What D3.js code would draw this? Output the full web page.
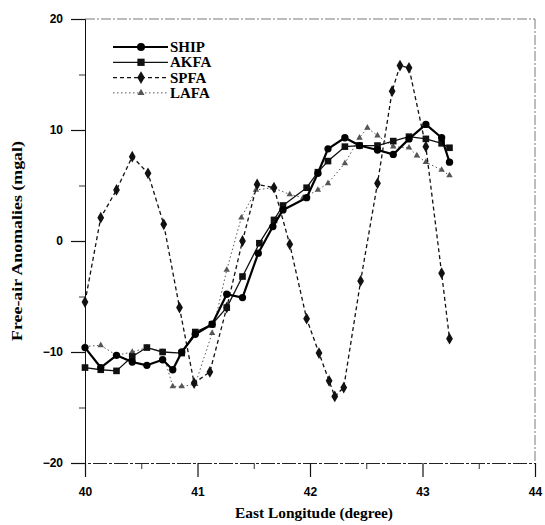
<!DOCTYPE html>
<html>
<head>
<meta charset="utf-8">
<script src="https://cdn.jsdelivr.net/npm/d3@7"></script>
<style>
  body { margin: 0; background: #fff; }
  svg { display: block; }
</style>
</head>
<body>
<div id="chart"></div>
<script>
// leituras do gráfico (longitude, anomalia)
const shipLon = [40.00, 40.14, 40.28, 40.42, 40.55, 40.69, 40.78, 40.86, 40.98, 41.13, 41.26, 41.40, 41.54, 41.67, 41.76, 41.97, 42.07, 42.16, 42.31, 42.44, 42.60, 42.74, 42.88, 43.03, 43.17, 43.24];
const shipVal = [-9.6, -11.4, -10.3, -10.9, -11.2, -10.7, -11.6, -10.0, -8.4, -7.5, -4.8, -5.1, -1.1, 1.3, 2.8, 3.9, 6.1, 8.3, 9.3, 8.6, 8.2, 7.8, 9.2, 10.5, 9.3, 7.1];

const akfaLon = [40.00, 40.14, 40.28, 40.42, 40.55, 40.69, 40.86, 40.98, 41.13, 41.26, 41.40, 41.55, 41.68, 41.76, 41.97, 42.07, 42.16, 42.31, 42.44, 42.60, 42.74, 42.88, 43.03, 43.17, 43.24];
const akfaVal = [-11.4, -11.6, -11.7, -10.4, -9.6, -10.0, -10.1, -8.2, -7.5, -6.0, -3.2, -0.2, 1.9, 3.2, 4.8, 6.2, 7.2, 8.5, 8.6, 8.6, 9.0, 9.4, 9.2, 8.8, 8.4];

const spfaLon = [40.00, 40.14, 40.28, 40.42, 40.56, 40.70, 40.84, 40.97, 41.11, 41.26, 41.40, 41.53, 41.68, 41.82, 41.97, 42.08, 42.17, 42.22, 42.30, 42.45, 42.60, 42.73, 42.80, 42.88, 43.03, 43.17, 43.24];
const spfaVal = [-5.5, 2.1, 4.6, 7.6, 6.1, 1.5, -6.0, -12.8, -11.8, -6.0, 0.0, 5.1, 4.8, -0.3, -7.0, -10.1, -12.6, -14.0, -13.2, -3.6, 5.2, 13.5, 15.8, 15.6, 8.5, -2.9, -8.8];

const lafaLon = [40.00, 40.14, 40.28, 40.42, 40.55, 40.69, 40.78, 40.86, 40.98, 41.13, 41.26, 41.39, 41.52, 41.67, 41.82, 41.94, 42.07, 42.16, 42.31, 42.44, 42.51, 42.60, 42.74, 42.88, 42.95, 43.03, 43.17, 43.24];
const lafaVal = [-9.5, -9.4, -10.3, -10.0, -9.6, -10.0, -13.1, -13.1, -12.9, -8.3, -2.6, 2.1, 4.6, 4.8, 4.2, 3.9, 4.6, 5.2, 7.0, 9.3, 10.2, 9.5, 8.5, 8.4, 7.7, 7.1, 6.4, 5.9];

const seriesNames = ['SHIP', 'AKFA', 'SPFA', 'LAFA'];
const xTicks = [40, 41, 42, 43, 44];
const yTicks = [-20, -10, 0, 10, 20];

const W = 545, H = 525;
const serif = '"Liberation Serif", "DejaVu Serif", serif';
const sans = '"Liberation Sans", Arial, sans-serif';

const styles = {
  SHIP: { width: 2.2, dash: null, color: '#000', sym: d3.symbolCircle, size: 42 },
  AKFA: { width: 1.3, dash: null, color: '#111', sym: d3.symbolSquare, size: 44 },
  SPFA: { width: 1.3, dash: '4,3', color: '#111', sym: d3.symbolDiamond, size: 40 },
  LAFA: { width: 1.0, dash: '1.5,2.5', color: '#555', sym: d3.symbolTriangle, size: 18 }
};

const data = {
  SHIP: shipLon.map((d, i) => ({ x: d, y: shipVal[i] })),
  AKFA: akfaLon.map((d, i) => ({ x: d, y: akfaVal[i] })),
  SPFA: spfaLon.map((d, i) => ({ x: d, y: spfaVal[i] })),
  LAFA: lafaLon.map((d, i) => ({ x: d, y: lafaVal[i] }))
};

const svg = d3.select('#chart').append('svg')
  .attr('width', W).attr('height', H);

const x = d3.scaleLinear().domain([40, 44]).range([85, 535]);
const y = d3.scaleLinear().domain([-20, 20]).range([463, 19]);

// moldura (topo e direita tracejados, como no scan)
svg.append('line')
  .attr('x1', x(40)).attr('x2', x(44)).attr('y1', y(20)).attr('y2', y(20))
  .attr('stroke', '#555').attr('stroke-width', 0.8).attr('stroke-dasharray', '10,2,2,2');
svg.append('line')
  .attr('x1', x(44)).attr('x2', x(44)).attr('y1', y(20)).attr('y2', y(-20))
  .attr('stroke', '#555').attr('stroke-width', 0.8).attr('stroke-dasharray', '10,2,2,2');

// eixo x
const xAxis = svg.append('g')
  .attr('transform', `translate(0,${y(-20)})`)
  .call(d3.axisBottom(x).tickValues(xTicks).tickSize(14).tickPadding(10).tickFormat(d3.format('d')));
xAxis.select('.domain').attr('stroke', '#222').attr('stroke-dasharray', '14,2,3,2');
xAxis.selectAll('.tick line').attr('stroke', '#111').attr('stroke-width', 1.2);
xAxis.selectAll('text')
  .attr('font-family', sans).attr('font-weight', 'bold').attr('font-size', 12).attr('fill', '#000');
svg.append('g')
  .attr('transform', `translate(0,${y(-20)})`)
  .call(d3.axisBottom(x).tickValues([40.5, 41.5, 42.5, 43.5]).tickSize(6).tickFormat(''))
  .call(g => g.select('.domain').remove())
  .selectAll('.tick line').attr('stroke', '#333');

// eixo y
const yAxis = svg.append('g')
  .attr('transform', `translate(${x(40)},0)`)
  .call(d3.axisLeft(y).tickValues(yTicks).tickSize(14).tickPadding(8).tickFormat(d3.format('d')));
yAxis.select('.domain').attr('stroke', '#111').attr('stroke-width', 1);
yAxis.selectAll('.tick line').attr('stroke', '#111').attr('stroke-width', 1.2);
yAxis.selectAll('text')
  .attr('font-family', sans).attr('font-weight', 'bold').attr('font-size', 12).attr('fill', '#000');
svg.append('g')
  .attr('transform', `translate(${x(40)},0)`)
  .call(d3.axisLeft(y).tickValues([-15, -5, 5, 15]).tickSize(6).tickFormat(''))
  .call(g => g.select('.domain').remove())
  .selectAll('.tick line').attr('stroke', '#333');

// títulos dos eixos
svg.append('text')
  .attr('x', 314).attr('y', 518).attr('text-anchor', 'middle')
  .attr('font-family', serif).attr('font-weight', 'bold').attr('font-size', 15)
  .attr('textLength', 158).attr('lengthAdjust', 'spacingAndGlyphs')
  .text('East Longitude (degree)');
svg.append('text')
  .attr('transform', `translate(22,${241}) rotate(-90)`).attr('text-anchor', 'middle')
  .attr('font-family', serif).attr('font-weight', 'bold').attr('font-size', 15)
  .attr('textLength', 200).attr('lengthAdjust', 'spacingAndGlyphs')
  .text('Free-air Anomalies (mgal)');

// séries
const line = d3.line().x(d => x(d.x)).y(d => y(d.y));

seriesNames.slice().reverse().forEach(name => {
  const s = styles[name];
  svg.append('path')
    .datum(data[name])
    .attr('d', line)
    .attr('fill', 'none')
    .attr('stroke', s.color)
    .attr('stroke-width', s.width)
    .attr('stroke-dasharray', s.dash)
    .attr('stroke-linejoin', 'round');
  svg.append('g').selectAll('path')
    .data(data[name])
    .join('path')
    .attr('transform', d => `translate(${x(d.x)},${y(d.y)})`)
    .attr('d', d3.symbol(s.sym, s.size))
    .attr('fill', s.color);
});

// legenda
const legend = svg.append('g');
seriesNames.forEach((name, i) => {
  const s = styles[name];
  const ly = 47 + i * 15.3;
  legend.append('line')
    .attr('x1', 113).attr('x2', 168).attr('y1', ly).attr('y2', ly)
    .attr('stroke', s.color).attr('stroke-width', s.width)
    .attr('stroke-dasharray', s.dash);
  legend.append('path')
    .attr('transform', `translate(141,${ly})`)
    .attr('d', d3.symbol(s.sym, s.size * 1.2))
    .attr('fill', s.color);
  legend.append('text')
    .attr('x', 170).attr('y', ly + 5)
    .attr('font-family', serif).attr('font-weight', 'bold').attr('font-size', 15)
    .text(name);
});
</script>
</body>
</html>
